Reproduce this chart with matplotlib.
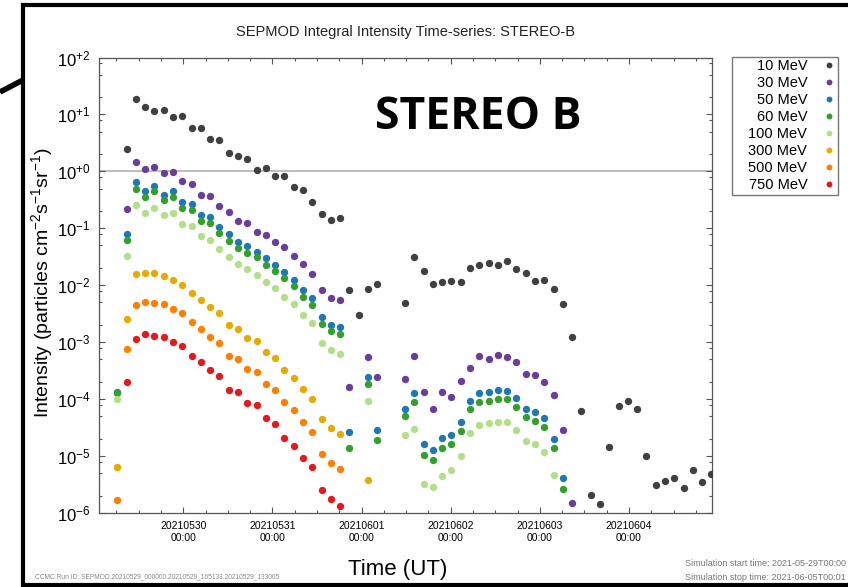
import numpy as np
import pandas as pd
import matplotlib
matplotlib.use('Agg')
import matplotlib.pyplot as plt
import matplotlib.dates as mdates
import matplotlib.ticker as mticker
from matplotlib.lines import Line2D
from matplotlib.patches import Rectangle

plt.rcParams['font.family'] = ['Liberation Sans', 'DejaVu Sans']
plt.rcParams['mathtext.fontset'] = 'custom'
plt.rcParams['mathtext.rm'] = 'Liberation Sans'
plt.rcParams['mathtext.it'] = 'Liberation Sans:italic'
plt.rcParams['mathtext.bf'] = 'Liberation Sans:bold'

nan = np.nan
N_PTS = 65

# ------------------------------------------------------------------------------
# dados -- um ponto a cada 2.5 h
# ------------------------------------------------------------------------------
tempos = pd.date_range('2021-05-29 06:13', periods=N_PTS, freq='150min')

canais = ['10 MeV', '30 MeV', '50 MeV', '60 MeV',
          '100 MeV', '300 MeV', '500 MeV', '750 MeV']
cores = ['#404040', '#6a3d9a', '#1f78b4', '#33a02c',
         '#b2df8a', '#e6ab02', '#ff7f00', '#e31a1c']

i10 = [nan, 2.5, 18.4, 13.7, 11.6, 11.8, 9.1, 9.3, 5.7, 5.8,
       3.7, 3.5, 2.1, 1.83, 1.63, 1.05, 1.13, 0.83, 0.83, 0.53,
       0.475, 0.29, 0.178, 0.139, 0.153, 0.0084, 0.003, 0.0085, 0.0105, nan,
       nan, 0.0049, 0.0316, 0.0177, 0.0105, 0.0115, 0.0118, 0.0112, 0.0197, 0.0225,
       0.025, 0.0225, 0.0269, 0.0194, 0.0161, 0.0121, 0.0123, 0.0085, 0.0047, 0.00121,
       6.2e-5, 2.05e-6, 1.42e-6, 1.45e-5, 7.5e-5, 9.2e-5, 6.8e-5, 1.02e-5, 3.07e-6, 3.66e-6,
       4.07e-6, 2.7e-6, 5.6e-6, 3.56e-6, 4.8e-6]
i30 = [nan, 0.215, 1.47, 1.11, 1.2, 0.92, 0.98, 0.68, 0.6, 0.39,
       0.37, 0.243, 0.19, 0.132, 0.122, 0.086, 0.077, 0.057, 0.047, 0.032,
       0.0235, 0.0159, 0.0081, 0.006, 0.0056, 1.62e-4, nan, 5.4e-4, 2.4e-4, nan,
       nan, 2.24e-4, 5.75e-4, 1.34e-4, 6.7e-5, 1.32e-4, 1.09e-4, 2.06e-4, 3.5e-4, 5.75e-4,
       4.97e-4, 5.9e-4, 5.45e-4, 4.5e-4, 2.74e-4, 2.63e-4, 2.0e-4, 1.17e-4, 2.9e-5, 1.48e-6]
i50 = [1.31e-4, 0.081, 0.64, 0.45, 0.56, 0.39, 0.45, 0.285, 0.266, 0.17,
       0.157, 0.106, 0.078, 0.058, 0.049, 0.038, 0.0295, 0.023, 0.0172, 0.0123,
       0.0082, 0.0059, 0.0028, 0.00204, 0.00186, 2.6e-5, nan, 2.4e-4, 2.9e-5, nan,
       nan, 6.6e-5, 1.29e-4, 1.66e-5, 1.26e-5, 2.1e-5, 2.35e-5, 4.0e-5, 9.3e-5, 1.27e-4,
       1.32e-4, 1.43e-4, 1.39e-4, 1.05e-4, 6.8e-5, 5.9e-5, 4.6e-5, 2.0e-5, 4.1e-6]
i60 = [1.28e-4, 0.062, 0.50, 0.353, 0.45, 0.32, 0.35, 0.226, 0.209, 0.134,
       0.122, 0.083, 0.060, 0.046, 0.037, 0.031, 0.0225, 0.0179, 0.0132, 0.0096,
       0.00625, 0.00447, 0.0021, 0.00156, 0.00138, 1.41e-5, nan, 1.83e-4, 1.9e-5, nan,
       nan, 5.0e-5, 8.9e-5, 1.03e-5, 8.7e-6, 1.39e-5, 1.64e-5, 2.77e-5, 6.6e-5, 8.9e-5,
       9.4e-5, 1.0e-4, 1.0e-4, 7.3e-5, 4.9e-5, 4.1e-5, 3.2e-5, 1.36e-5, 2.6e-6]
i100 = [1.0e-4, 0.033, 0.256, 0.187, 0.229, 0.17, 0.183, 0.12, 0.108, 0.072,
        0.063, 0.044, 0.031, 0.024, 0.019, 0.0153, 0.0113, 0.0091, 0.00625, 0.0047,
        0.003, 0.0022, 9.7e-4, 7.2e-4, 6.3e-4, nan, nan, 9.3e-5, nan, nan,
        nan, 2.3e-5, 3.0e-5, 3.2e-6, 2.9e-6, 4.5e-6, 5.6e-6, 1.0e-5, 2.55e-5, 3.5e-5,
        3.8e-5, 4.0e-5, 3.9e-5, 2.9e-5, 1.85e-5, 1.6e-5, 1.2e-5, 4.7e-6]
i300 = [6.4e-6, 2.6e-3, 0.0157, 0.0161, 0.0161, 0.0145, 0.0126, 0.0102, 0.0074, 0.0056,
        0.0042, 0.0032, 0.0020, 0.00169, 0.00119, 0.00103, 6.7e-4, 5.3e-4, 3.26e-4, 2.36e-4,
        1.49e-4, 9.95e-5, 4.4e-5, 3.1e-5, 2.45e-5, nan, nan, 3.8e-6]
i500 = [1.67e-6, 7.5e-4, 0.00447, 0.0051, 0.0048, 0.00466, 0.0038, 0.0032, 0.00222, 0.00169,
        0.00124, 9.7e-4, 5.7e-4, 5.1e-4, 3.4e-4, 3.0e-4, 1.85e-4, 1.47e-4, 8.8e-5, 6.4e-5,
        3.9e-5, 2.6e-5, 1.1e-5, 7.7e-6, 5.9e-6]
i750 = [nan, 1.96e-4, 1.13e-3, 1.38e-3, 1.26e-3, 1.22e-3, 1.0e-3, 8.4e-4, 5.7e-4, 4.5e-4,
        3.2e-4, 2.56e-4, 1.45e-4, 1.32e-4, 8.5e-5, 7.8e-5, 4.6e-5, 3.7e-5, 2.1e-5, 1.53e-5,
        9.3e-6, 6.4e-6, 2.5e-6, 1.79e-6, 1.35e-6]

series = [i10, i30, i50, i60, i100, i300, i500, i750]


def completa(v):
    # series terminam antes do fim da simulacao -> resto sem dado
    return np.array(v + [nan] * (N_PTS - len(v)))


# ------------------------------------------------------------------------------
# figura
# ------------------------------------------------------------------------------
W, H = 848, 587
fig = plt.figure(figsize=(W / 100, H / 100), dpi=100)
ax = fig.add_axes([99 / W, 1 - 513 / H, 613 / W, 455.5 / H])

for nome, cor, vals in zip(canais, cores, series):
    ax.plot(tempos, completa(vals), 'o', ms=5.3, color=cor, mec='none', label=nome, zorder=3)

ax.axhline(1.0, color='#b8b8b8', lw=1.3, zorder=1)

ax.set_yscale('log')
ax.set_ylim(1e-6, 1e2)
ax.yaxis.set_major_locator(mticker.LogLocator(base=10, numticks=20))
ax.yaxis.set_minor_locator(mticker.LogLocator(base=10, subs=(2, 5, 8), numticks=20))
ax.yaxis.set_minor_formatter(mticker.NullFormatter())
ax.yaxis.set_major_formatter(mticker.FuncFormatter(
    lambda v, _: r'$10^{%+d}$' % int(round(np.log10(v)))))

ax.set_xlim(pd.Timestamp('2021-05-29 01:18'), pd.Timestamp('2021-06-04 22:22'))
ax.xaxis.set_major_locator(mdates.DayLocator())
ax.xaxis.set_minor_locator(mdates.HourLocator(byhour=[0, 6, 12, 18]))
ax.xaxis.set_major_formatter(mdates.DateFormatter('%Y%m%d\n%H:%M'))

ax.tick_params(which='both', direction='in', top=True, right=True, color='#555555')
ax.tick_params(which='major', length=4.5, width=0.8)
ax.tick_params(which='minor', length=2.5, width=0.8)
ax.tick_params(axis='y', labelsize=12, pad=6)
ax.tick_params(axis='x', labelsize=7.5, pad=6)
for s in ax.spines.values():
    s.set_color('#555555')
    s.set_linewidth(0.9)

# textos
fig.text(405 / W, 1 - 32 / H, 'SEPMOD Integral Intensity Time-series: STEREO-B',
         ha='center', va='center', fontsize=10.5, color='#222222')
fig.text(42 / W, 1 - 283 / H, r'Intensity (particles cm$^{-2}$s$^{-1}$sr$^{-1}$)',
         rotation=90, ha='center', va='center', fontsize=14)
fig.text(398 / W, 1 - 570 / H, 'Time (UT)', ha='center', va='center', fontsize=16)
fig.text(375 / W, 1 - 129 / H, 'STEREO B', ha='left', va='baseline',
         fontsize=32, fontweight='bold', family=['Open Sans', 'DejaVu Sans'])
fig.text(35 / W, 1 - 577 / H,
         'CCMC Run ID: SEPMOD.20210529_000000.20210529_165133.20210529_133005',
         ha='left', va='center', fontsize=4.8, color='#888888')
fig.text(846 / W, 1 - 563 / H, 'Simulation start time: 2021-05-29T00:00',
         ha='right', va='center', fontsize=6.5, color='#777777')
fig.text(846 / W, 1 - 577 / H, 'Simulation stop time: 2021-06-05T00:01',
         ha='right', va='center', fontsize=6.5, color='#777777')

# legenda: texto alinhado a direita, marcador depois
ax.legend(loc='upper right', bbox_to_anchor=(838 / W, 1 - 56 / H),
          bbox_transform=fig.transFigure, markerfirst=False, frameon=False,
          fontsize=10.5, handlelength=0.8, handletextpad=1.1, borderpad=0.2,
          labelspacing=0.21, borderaxespad=0, markerscale=0.8)
fig.add_artist(Rectangle((732 / W, 1 - 195 / H), 106 / W, 138 / H,
                         transform=fig.transFigure, fill=False,
                         ec='#777777', lw=1.0))

# moldura preta do recorte original
def linha(xs, ys, lw):
    fig.add_artist(Line2D([x / W for x in xs], [1 - y / H for y in ys],
                          transform=fig.transFigure, color='black', lw=lw,
                          solid_capstyle='butt'))

linha([21, 848], [4.5, 4.5], 3.0)
linha([23, 23], [3, 587], 3.0)
linha([21, 848], [584.5, 584.5], 3.0)
linha([0, 23], [92, 80], 4.0)

fig.savefig('out.png', dpi=100)
